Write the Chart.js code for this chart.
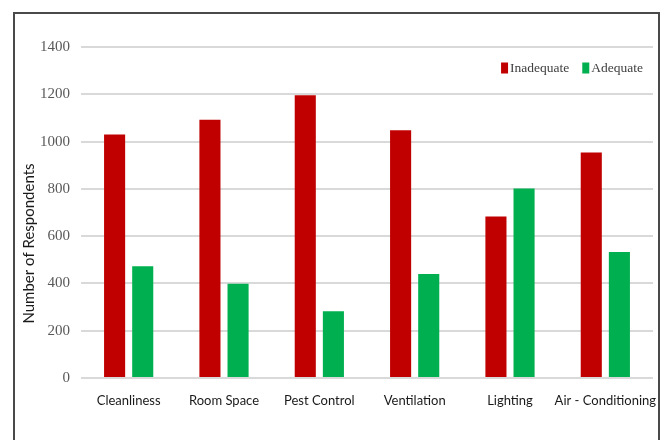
<!DOCTYPE html>
<html>
<head>
<meta charset="utf-8">
<script src="https://cdn.jsdelivr.net/npm/chart.js@4/dist/chart.umd.min.js"></script>
<style>
  html, body { margin: 0; padding: 0; background: #ffffff; }
  #wrap { position: relative; width: 662px; height: 440px; overflow: hidden; }
  #frame {
    position: absolute; left: 13px; top: 12px; width: 647px; height: 460px;
    border: 2px solid #4a4a4a; box-sizing: border-box;
  }
  canvas { position: absolute; left: 0; top: 0; }
</style>
</head>
<body>
<div id="wrap">
  <div id="frame"></div>
  <canvas id="chart" width="662" height="440"></canvas>
</div>
<script>
// Survey responses per facility aspect
const categories = ['Cleanliness', 'Room Space', 'Pest Control', 'Ventilation', 'Lighting', 'Air - Conditioning'];
const inadequate = [1030, 1092, 1196, 1048, 683, 954];
const adequate = [473, 399, 282, 440, 801, 533];
const seriesNames = ['Inadequate', 'Adequate'];
const yTicks = [0, 200, 400, 600, 800, 1000, 1200, 1400];
const yTitle = 'Number of Respondents';

const serif = "'Liberation Serif', 'DejaVu Serif', serif";
const sans = "Lato, 'Open Sans', sans-serif";

// Legend drawn inside the plot, top-right, from the datasets themselves
const insideLegend = {
  id: 'insideLegend',
  afterDraw(chart) {
    const ctx = chart.ctx;
    const area = chart.chartArea;
    ctx.save();
    ctx.font = '13.5px ' + serif;
    ctx.textBaseline = 'middle';
    ctx.textAlign = 'left';
    const items = chart.data.datasets.map(d => ({ text: d.label, color: d.backgroundColor }));
    const boxW = 7, boxH = 11, boxGap = 2, itemGap = 13;
    let total = 0;
    items.forEach((it, i) => {
      it.w = ctx.measureText(it.text).width;
      total += boxW + boxGap + it.w + (i < items.length - 1 ? itemGap : 0);
    });
    let x = area.right - 10 - total;
    const cy = area.top + 21;
    items.forEach(it => {
      ctx.fillStyle = it.color;
      ctx.fillRect(x, cy - boxH / 2, boxW, boxH);
      x += boxW + boxGap;
      ctx.fillStyle = '#404040';
      ctx.fillText(it.text, x, cy);
      x += it.w + itemGap;
    });
    ctx.restore();
  }
};

// Vertical axis title, set slightly below the middle of the plot
const sideTitle = {
  id: 'sideTitle',
  afterDraw(chart) {
    const ctx = chart.ctx;
    const area = chart.chartArea;
    ctx.save();
    ctx.font = '15px ' + sans;
    ctx.fillStyle = '#1a1a1a';
    ctx.textAlign = 'center';
    ctx.textBaseline = 'middle';
    ctx.translate(29, (area.top + area.bottom) / 2 + 31);
    ctx.rotate(-Math.PI / 2);
    ctx.fillText(yTitle, 0, 0);
    ctx.restore();
  }
};

new Chart(document.getElementById('chart'), {
  type: 'bar',
  data: {
    labels: categories,
    datasets: [
      { label: seriesNames[0], data: inadequate, backgroundColor: '#c00000', borderWidth: 0 },
      { label: seriesNames[1], data: adequate, backgroundColor: '#00b050', borderWidth: 0 }
    ]
  },
  plugins: [insideLegend, sideTitle],
  options: {
    responsive: false,
    animation: false,
    devicePixelRatio: 1,
    categoryPercentage: 0.59,
    barPercentage: 0.75,
    layout: { padding: { left: 0, right: 9, top: 47, bottom: 0 } },
    plugins: {
      tooltip: { enabled: false },
      legend: { display: false }
    },
    scales: {
      x: {
        grid: { display: false, drawTicks: false },
        border: { display: false },
        ticks: {
          color: '#1a1a1a',
          padding: 15,
          maxRotation: 0,
          autoSkip: false,
          font: { family: sans, size: 13 }
        },
        afterFit: (s) => { s.height = 62; s.paddingLeft = 0; s.paddingRight = 0; }
      },
      y: {
        min: 0,
        max: yTicks[yTicks.length - 1],
        afterBuildTicks: (s) => { s.ticks = yTicks.map(v => ({ value: v })); },
        grid: { color: '#d9d9d9', lineWidth: 2, drawTicks: false },
        border: { display: false },
        ticks: {
          color: '#595959',
          padding: 11,
          font: { family: serif, size: 15 },
          callback: (v) => String(v)
        },
        afterFit: (s) => { s.width = 81; }
      }
    }
  }
});
</script>
</body>
</html>
